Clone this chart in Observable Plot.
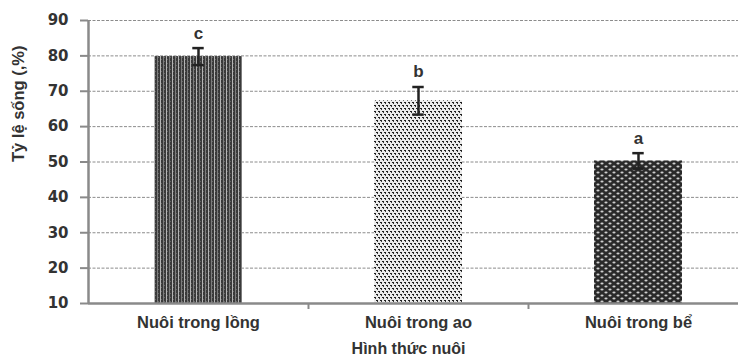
<!DOCTYPE html>
<html>
<head>
<meta charset="utf-8">
<script src="https://cdn.jsdelivr.net/npm/d3@7"></script>
<script src="https://cdn.jsdelivr.net/npm/@observablehq/plot@0.6"></script>
<style>
  body { margin: 0; background: #fff; }
  svg { overflow: visible; }
</style>
</head>
<body>
<div id="chart"></div>
<script>
const categories = ["Nuôi trong lồng", "Nuôi trong ao", "Nuôi trong bể"];
const values = [79.8, 67.3, 50.3];
const errors = [2.4, 3.9, 2.2];
const letters = ["c", "b", "a"];
const patternIds = ["pat1", "pat2", "pat3"];
const yTicks = [10, 20, 30, 40, 50, 60, 70, 80, 90];

const data = categories.map((c, i) => ({
  cat: c, idx: i, value: values[i], err: errors[i], letter: letters[i], fill: `url(#${patternIds[i]})`
}));

const textColor = "#333";
const axisColor = "#8a8a8a";
const font = "'Liberation Sans', Arial, sans-serif";

const chart = Plot.plot({
  width: 738,
  height: 356,
  marginTop: 20,
  marginBottom: 53,
  marginLeft: 88,
  marginRight: 0,
  style: { fontFamily: font, color: textColor, background: "#fff" },
  x: { type: "linear", domain: [0, categories.length], range: [88, 748] },
  y: { domain: [10, 90] },
  marks: [
    Plot.gridY(yTicks.slice(1), { stroke: "#8c8c8c", strokeOpacity: 1, strokeDasharray: "3,1.5", strokeWidth: 1 }),
    Plot.rectY(data, {
      x1: d => d.idx + 0.3, x2: d => d.idx + 0.7, y1: 10, y2: "value",
      fill: "fill"
    }),
    Plot.ruleX(data, { x: d => d.idx + 0.5, y1: d => d.value - d.err, y2: d => d.value + d.err, stroke: "#222", strokeWidth: 2.5 }),
    Plot.ruleY(data, { x1: d => d.idx + 0.5 - 0.026, x2: d => d.idx + 0.5 + 0.026, y: d => d.value + d.err, stroke: "#222", strokeWidth: 2.5 }),
    Plot.ruleY(data, { x1: d => d.idx + 0.5 - 0.026, x2: d => d.idx + 0.5 + 0.026, y: d => d.value - d.err, stroke: "#222", strokeWidth: 2.5 }),
    Plot.text(data, { x: d => d.idx + 0.5, y: d => d.value + d.err, text: "letter", dy: -15, fontSize: 17, fontWeight: "bold", fill: textColor }),
    Plot.ruleX([0], { stroke: axisColor, strokeWidth: 2.5 }),
    Plot.ruleY([10], { stroke: axisColor, strokeWidth: 2.5 }),
    Plot.axisY({ ticks: yTicks, tickSize: 8, tickPadding: 12, stroke: axisColor, strokeWidth: 2, fontSize: 15, fontWeight: "bold", fontFamily: "'DejaVu Sans', sans-serif", label: null, fill: textColor }),
    Plot.axisX({ ticks: [1, 2], tickSize: 6, tickFormat: () => "", stroke: axisColor, strokeWidth: 2, label: null }),
    Plot.axisX({ ticks: categories.map((c, i) => i + 0.5), tickSize: 0, tickPadding: 13, tickFormat: (v) => categories[Math.floor(v)], fontSize: 16.5, fontWeight: "bold", label: null, fill: textColor }),
    Plot.text(["Hình thức nuôi"], { frameAnchor: "bottom", dy: 45, dx: -5, fontSize: 16, fontWeight: "bold", fill: textColor, lineAnchor: "middle" }),
    Plot.text(["Tỷ lệ sống (,%)"], { frameAnchor: "left", dx: -70, rotate: -90, fontSize: 16.5, fontWeight: "bold", fill: textColor, fontFamily: "'Liberation Sans Narrow', 'Liberation Sans', sans-serif", lineAnchor: "middle" })
  ]
});

// Pattern fills
const ns = "http://www.w3.org/2000/svg";
const defs = document.createElementNS(ns, "defs");
defs.innerHTML = `
  <pattern id="pat1" patternUnits="userSpaceOnUse" width="6" height="4">
    <rect width="6" height="4" fill="#3a3a3a"/>
    <rect x="1" y="0" width="1" height="4" fill="#7d7d7d"/>
    <rect x="4" y="0" width="1" height="4" fill="#b5b5b5"/>
    <rect x="2" y="1" width="1" height="1" fill="#666"/>
    <rect x="5" y="3" width="1" height="1" fill="#666"/>
  </pattern>
  <pattern id="pat2" patternUnits="userSpaceOnUse" width="8" height="6">
    <rect width="8" height="6" fill="#ececec"/>
    <rect x="0" y="0" width="2" height="1" fill="#1e1e1e"/>
    <rect x="1" y="1" width="1" height="1" fill="#3a3a3a"/>
    <rect x="4" y="0" width="2" height="1" fill="#1e1e1e"/>
    <rect x="5" y="1" width="1" height="1" fill="#3a3a3a"/>
    <rect x="2" y="3" width="2" height="1" fill="#1e1e1e"/>
    <rect x="3" y="4" width="1" height="1" fill="#3a3a3a"/>
    <rect x="6" y="3" width="2" height="1" fill="#1e1e1e"/>
    <rect x="7" y="4" width="1" height="1" fill="#3a3a3a"/>
  </pattern>
  <pattern id="pat3" patternUnits="userSpaceOnUse" width="8" height="6">
    <rect width="8" height="6" fill="#2a2a2a"/>
    <ellipse cx="2" cy="1.5" rx="1.6" ry="1.1" fill="#cfcfcf"/>
    <ellipse cx="6" cy="4.5" rx="1.6" ry="1.1" fill="#cfcfcf"/>
  </pattern>`;
chart.insertBefore(defs, chart.firstChild);
document.getElementById("chart").appendChild(chart);
</script>
</body>
</html>
